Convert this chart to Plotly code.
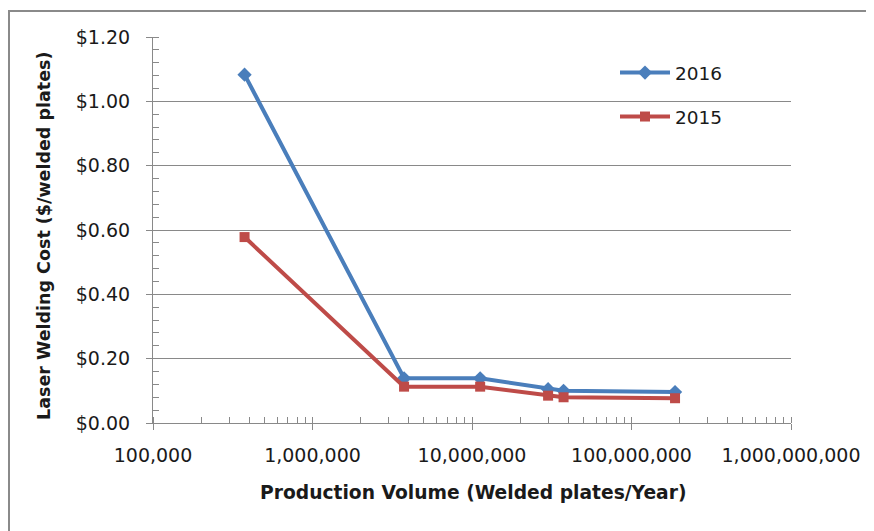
import plotly.graph_objects as go

volume = [375000, 3750000, 11250000, 30000000, 37500000, 187500000]
cost_2016 = [1.083, 0.139, 0.139, 0.105, 0.100, 0.096]
cost_2015 = [0.578, 0.113, 0.113, 0.085, 0.080, 0.077]
y_ticks = [0, 0.2, 0.4, 0.6, 0.8, 1.0, 1.2]
y_ticktext = ["$0.00", "$0.20", "$0.40", "$0.60", "$0.80", "$1.00", "$1.20"]
x_ticks = [1e5, 1e6, 1e7, 1e8, 1e9]
x_ticktext = ["100,000", "1,000,000", "10,000,000", "100,000,000", "1,000,000,000"]

BLUE = "#4A7EBB"
RED = "#BE4B48"
GRID = "#898989"
FONT = "DejaVu Sans"

OFF = 8  # page body margin
W, H = 866, 523
# plot area in screen pixels: x 153..791, y 37..423
L = 153 - OFF
R = W - (791 - OFF)
T = 37 - OFF
B = H - (423 - OFF)
pw, ph = W - L - R, H - T - B


def px_x(p):
    return (p - OFF - L) / pw


def px_y(p):
    return (H - B - (p - OFF)) / ph


fig = go.Figure()
fig.add_trace(go.Scatter(x=volume, y=cost_2016, name="2016", mode="lines+markers",
                         line=dict(color=BLUE, width=4),
                         marker=dict(symbol="diamond", size=11, color=BLUE),
                         legend="legend", showlegend=True))
fig.add_trace(go.Scatter(x=volume, y=cost_2015, name="2015", mode="lines+markers",
                         line=dict(color=RED, width=4),
                         marker=dict(symbol="square", size=10, color=RED),
                         legend="legend2", showlegend=True))

fig.update_layout(
    width=W, height=H,
    margin=dict(l=L, r=R, t=T, b=B),
    paper_bgcolor="white", plot_bgcolor="white",
    font=dict(family=FONT, size=19, color="#1a1a1a"),
    showlegend=True,
    legend=dict(x=px_x(615), y=px_y(73), xanchor="left", yanchor="middle",
                bgcolor="rgba(0,0,0,0)", itemwidth=50, font=dict(size=18.5)),
    legend2=dict(x=px_x(615), y=px_y(117), xanchor="left", yanchor="middle",
                 bgcolor="rgba(0,0,0,0)", itemwidth=50, font=dict(size=18.5)),
    xaxis=dict(type="log", range=[5, 9], tickvals=x_ticks, ticktext=x_ticktext,
               showgrid=False, showline=True, linecolor=GRID, linewidth=1,
               ticks="outside", ticklen=6, tickcolor=GRID,
               ticklabelstandoff=9,
               minor=dict(ticks="inside", ticklen=6, tickcolor=GRID, dtick="D1", showgrid=False),
               zeroline=False, fixedrange=True),
    yaxis=dict(range=[0, 1.2], tickvals=y_ticks, ticktext=y_ticktext,
               showgrid=True, gridcolor=GRID, gridwidth=1,
               showline=True, linecolor=GRID, linewidth=1,
               ticks="outside", ticklen=6, tickcolor=GRID,
               ticklabelstandoff=12,
               minor=dict(ticks="inside", ticklen=6, tickcolor=GRID, dtick=0.04, showgrid=False),
               zeroline=False, fixedrange=True),
    annotations=[
        dict(text="<b>Production Volume (Welded plates/Year)</b>", xref="paper", yref="paper",
             x=px_x(473), y=px_y(492), xanchor="center", yanchor="middle",
             showarrow=False, font=dict(size=18.7)),
        dict(text="<b>Laser Welding Cost ($/welded plates)</b>", xref="paper", yref="paper",
             x=px_x(44), y=px_y(236), xanchor="center", yanchor="middle", textangle=-90,
             showarrow=False, font=dict(size=17.5)),
    ],
    shapes=[
        dict(type="line", xref="paper", yref="paper", x0=px_x(9), x1=px_x(874),
             y0=px_y(11), y1=px_y(11), line=dict(color="#8a8a8a", width=2)),
        dict(type="line", xref="paper", yref="paper", x0=px_x(9), x1=px_x(9),
             y0=px_y(10), y1=px_y(531), line=dict(color="#8a8a8a", width=2)),
    ],
)

fig.write_html("out.html", config={"displayModeBar": False})
